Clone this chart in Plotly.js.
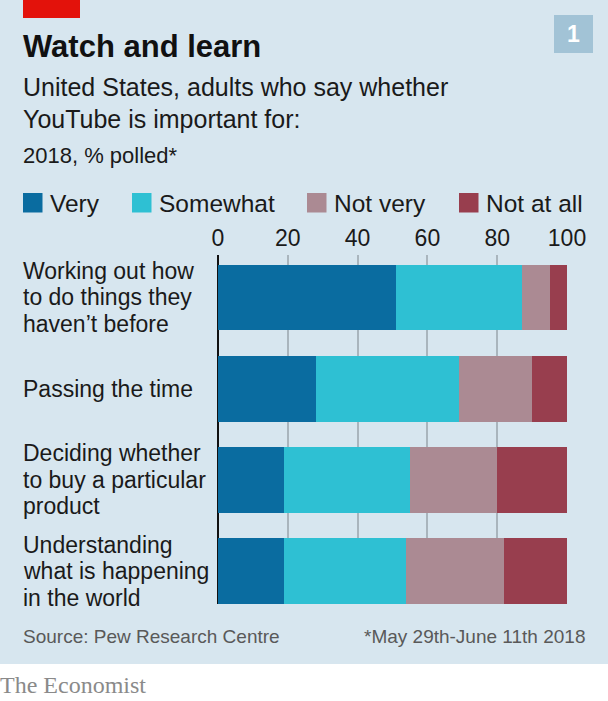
<!DOCTYPE html>
<html>
<head>
<meta charset="utf-8">
<script src="https://cdn.plot.ly/plotly-3.0.1.min.js"></script>
<style>
  html, body { margin: 0; padding: 0; background: #ffffff; }
  #chart { width: 608px; height: 701px; }
</style>
</head>
<body>
<div id="chart"></div>
<script>
// ---- Data ----
const categories = [
  'Working out how<br>to do things they<br>haven’t before',
  'Passing the time',
  'Deciding whether<br>to buy a particular<br>product',
  'Understanding<br>what is happening<br>in the world'
];
const seriesNames = ['Very', 'Somewhat', 'Not very', 'Not at all'];
const very     = [51, 28, 19, 19];
const somewhat = [36, 41, 36, 35];
const notVery  = [8, 21, 25, 28];
const notAtAll = [5, 10, 20, 18];
const xTickVals = [0, 20, 40, 60, 80, 100];

// ---- Style ----
const colors = ['#0a6ca0', '#2ec0d3', '#ab8a93', '#983e4e'];
const FONT = 'Liberation Sans, Arial, sans-serif';
const BG = '#d7e6ef';

// plot area in pixels
const L = 218, R = 567, T = 255, B = 604, W = 608, H = 701;
const xp = px => (px - L) / (R - L);
const yp = py => (B - py) / (B - T);

const seriesValues = [very, somewhat, notVery, notAtAll];
const traces = seriesValues.map((vals, i) => ({
  type: 'bar',
  orientation: 'h',
  name: seriesNames[i],
  y: categories,
  x: vals,
  marker: { color: colors[i], line: { width: 0 } },
  hoverinfo: 'x+name',
  showlegend: false
}));

const annotations = [];
function ann(text, x, y, size, extra) {
  annotations.push(Object.assign({
    xref: 'paper', yref: 'paper', x: xp(x), y: yp(y),
    text: text, showarrow: false, xanchor: 'left', yanchor: 'middle',
    font: { family: FONT, size: size, color: '#1a1a1a' }
  }, extra || {}));
}

// Titles
ann('<b>Watch and learn</b>', 21, 46, 31, { font: { family: FONT, size: 31, color: '#111111' } });
ann('United States, adults who say whether', 21, 87, 25);
ann('YouTube is important for:', 21, 119, 25);
ann('2018, % polled*', 21, 156, 22);

// Legend (manual)
const legendX = [23, 132, 307, 459];
const shapes = [];
seriesNames.forEach((n, i) => {
  shapes.push({ type: 'rect', xref: 'paper', yref: 'paper',
    x0: xp(legendX[i]), x1: xp(legendX[i] + 19.5), y0: yp(212.5), y1: yp(193),
    fillcolor: colors[i], line: { width: 0 } });
  ann(n, legendX[i] + 25, 203, 24.5);
});

// Category labels (left aligned, one annotation per line)
const lineGap = 26.5;
categories.forEach(cat => {
  const lines = cat.split('<br>');
  lines.forEach((ln, i) => {
    annotations.push({
      xref: 'paper', yref: 'y', x: xp(21), y: cat,
      yshift: -(i - (lines.length - 1) / 2) * lineGap,
      text: ln, showarrow: false, xanchor: 'left', yanchor: 'middle',
      font: { family: FONT, size: 23, color: '#1a1a1a' }
    });
  });
});

// Footer
ann('Source: Pew Research Centre', 21, 636, 19, { font: { family: FONT, size: 19, color: '#595959' } });
ann('*May 29th-June 11th 2018', 587, 636, 19, { xanchor: 'right', font: { family: FONT, size: 19, color: '#595959' } });
ann('The Economist', -2, 685, 24, { font: { family: 'Liberation Serif, Times New Roman, serif', size: 24, color: '#8a8a8a' } });
ann('<b>1</b>', 573.5, 34, 23, { xanchor: 'center', font: { family: FONT, size: 23, color: '#ffffff' } });

// Decorative shapes
shapes.push({ type: 'rect', xref: 'paper', yref: 'paper', layer: 'below',
  x0: xp(0), x1: xp(W), y0: yp(H), y1: yp(664), fillcolor: '#ffffff', line: { width: 0 } });
shapes.push({ type: 'rect', xref: 'paper', yref: 'paper',
  x0: xp(23), x1: xp(80), y0: yp(18), y1: yp(0), fillcolor: '#e3120b', line: { width: 0 } });
shapes.push({ type: 'rect', xref: 'paper', yref: 'paper',
  x0: xp(554), x1: xp(593), y0: yp(53), y1: yp(15), fillcolor: '#a2c3d6', line: { width: 0 } });

const layout = {
  width: W, height: H,
  margin: { l: L, r: W - R, t: T, b: H - B, pad: 0 },
  paper_bgcolor: BG,
  plot_bgcolor: BG,
  barmode: 'stack',
  bargap: 0.28,
  showlegend: false,
  font: { family: FONT, color: '#1a1a1a' },
  xaxis: {
    range: [0, 100],
    side: 'top',
    tickvals: xTickVals,
    ticktext: xTickVals.map(String),
    ticks: '',
    ticklabelstandoff: 3,
    tickfont: { family: FONT, size: 23, color: '#1a1a1a' },
    showgrid: true, gridcolor: '#a9b5bd', gridwidth: 1.5,
    zeroline: true, zerolinecolor: '#111111', zerolinewidth: 2,
    showline: false, fixedrange: true
  },
  yaxis: {
    type: 'category',
    range: [3.36, -0.465],
    showticklabels: false, showgrid: false, zeroline: false, showline: false,
    fixedrange: true
  },
  annotations: annotations,
  shapes: shapes
};

Plotly.newPlot('chart', traces, layout, { displayModeBar: false, staticPlot: false });
</script>
</body>
</html>
